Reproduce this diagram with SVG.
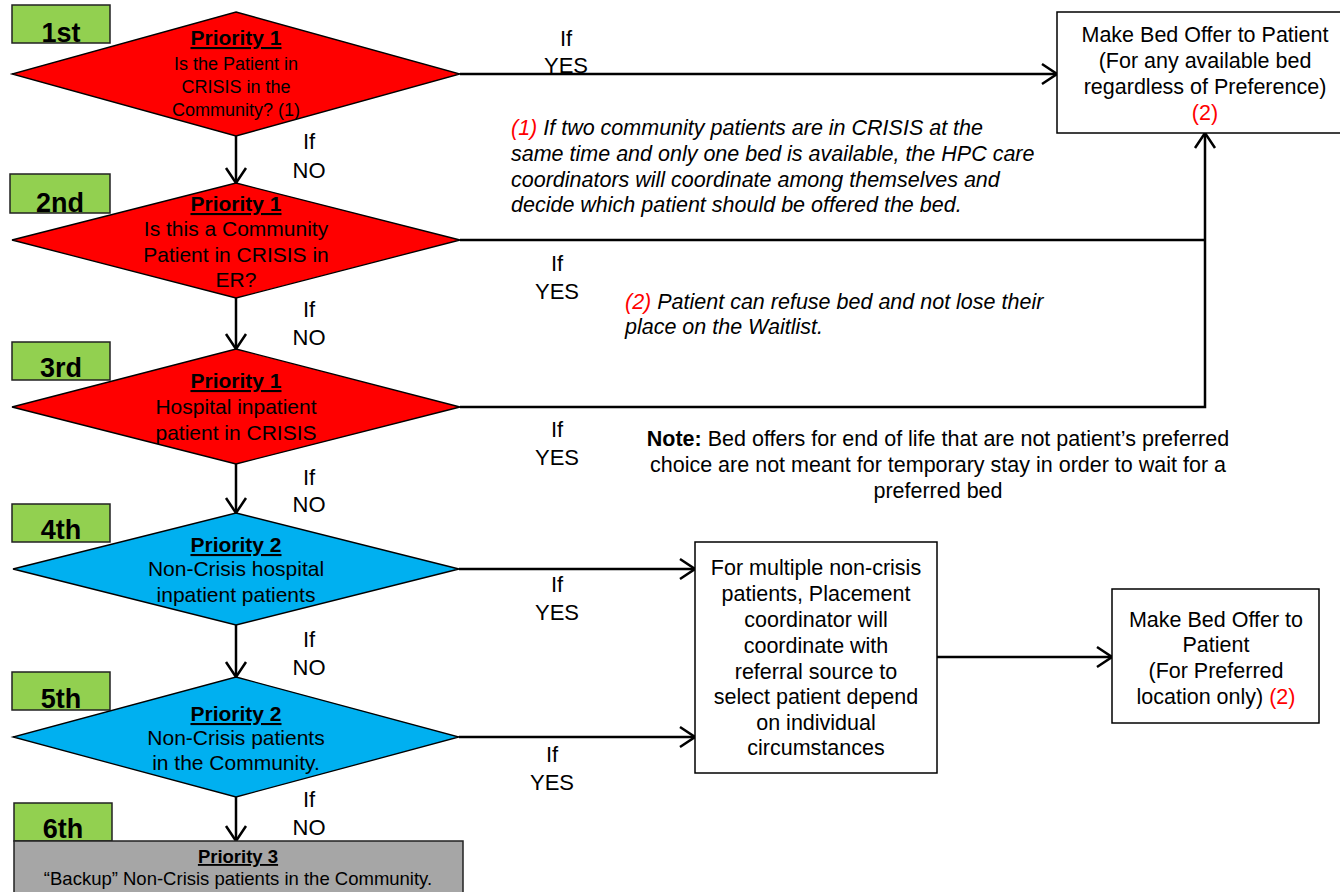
<svg xmlns="http://www.w3.org/2000/svg" width="1340" height="892" viewBox="0 0 1340 892">
<style>
text{font-family:"Liberation Sans",Arial,sans-serif;fill:#000}
.step{fill:#92d050;stroke:#222;stroke-width:1.5}
.stept{font-size:27px;font-weight:bold;text-anchor:middle}
.dia{stroke:#000;stroke-width:1.3}
.red{fill:#ff0000}
.blue{fill:#00b0f0}
.pr{font-size:21px;font-weight:bold;text-decoration:underline;text-anchor:middle}
.body{font-size:21px;text-anchor:middle}
.bx{font-size:21.5px;text-anchor:middle}
.lbl{font-size:22px;text-anchor:middle}
.box{fill:#fff;stroke:#000;stroke-width:1.5}
.note{font-size:21.5px;font-style:italic}
.nt{font-size:21.5px;text-anchor:middle}
.rn{fill:#ff0000}
.conn{fill:none;stroke:#000;stroke-width:2.5}
</style>
<defs>
<marker id="arr" markerUnits="userSpaceOnUse" viewBox="-17 -12 19 24" refX="0" refY="0" markerWidth="19" markerHeight="24" orient="auto">
<path d="M-15,-10 L0,0 L-15,10" fill="none" stroke="#000" stroke-width="2.5"/>
</marker>
</defs>

<g id="step1"><rect class="step" x="12" y="5" width="98" height="38"/><text class="stept" x="61" y="42">1st</text></g>
<g id="step2"><rect class="step" x="10" y="174" width="100" height="39"/><text class="stept" x="60" y="212">2nd</text></g>
<g id="step3"><rect class="step" x="12" y="342" width="98" height="38"/><text class="stept" x="61" y="377">3rd</text></g>
<g id="step4"><rect class="step" x="12" y="504" width="98" height="38"/><text class="stept" x="61" y="539">4th</text></g>
<g id="step5"><rect class="step" x="12" y="672" width="98" height="38"/><text class="stept" x="61" y="708">5th</text></g>
<g id="step6"><rect class="step" x="14" y="803" width="98" height="38"/><text class="stept" x="63" y="838">6th</text></g>

<g id="connectors">
<path class="conn" d="M460,74 H1057" marker-end="url(#arr)"/>
<path class="conn" d="M460,240 H1205"/>
<path class="conn" d="M460,407 H1205 V133" marker-end="url(#arr)"/>
<path class="conn" d="M236,136 V183" marker-end="url(#arr)"/>
<path class="conn" d="M236,298 V349" marker-end="url(#arr)"/>
<path class="conn" d="M236,464 V513" marker-end="url(#arr)"/>
<path class="conn" d="M236,625 V677" marker-end="url(#arr)"/>
<path class="conn" d="M236,797 V841" marker-end="url(#arr)"/>
<path class="conn" d="M459,569 H695" marker-end="url(#arr)"/>
<path class="conn" d="M459,737 H695" marker-end="url(#arr)"/>
<path class="conn" d="M937,657 H1112" marker-end="url(#arr)"/>
</g>

<g id="d1">
<polygon class="dia red" points="236,12 460,74 236,136 12,74"/>
<text class="pr" x="236" y="45">Priority 1</text>
<text class="body" style="font-size:18px" x="236" y="70">Is the Patient in</text>
<text class="body" style="font-size:18px" x="236" y="93">CRISIS in the</text>
<text class="body" style="font-size:18px" x="236" y="116">Community? (1)</text>
</g>
<g id="d2">
<polygon class="dia red" points="236,183 460,240 236,298 12,240"/>
<text class="pr" x="236" y="211">Priority 1</text>
<text class="body" x="236" y="236">Is this a Community</text>
<text class="body" x="236" y="262">Patient in CRISIS in</text>
<text class="body" x="236" y="287">ER?</text>
</g>
<g id="d3">
<polygon class="dia red" points="236,349 460,407 236,464 12,407"/>
<text class="pr" x="236" y="388">Priority 1</text>
<text class="body" x="236" y="414">Hospital inpatient</text>
<text class="body" x="236" y="440">patient in CRISIS</text>
</g>
<g id="d4">
<polygon class="dia blue" points="236,513 459,569 236,625 13,569"/>
<text class="pr" x="236" y="552">Priority 2</text>
<text class="body" x="236" y="576">Non-Crisis hospital</text>
<text class="body" x="236" y="602">inpatient patients</text>
</g>
<g id="d5">
<polygon class="dia blue" points="236,677 459,737 236,797 13,737"/>
<text class="pr" x="236" y="721">Priority 2</text>
<text class="body" x="236" y="745">Non-Crisis patients</text>
<text class="body" x="236" y="770">in the Community.</text>
</g>
<g id="backup">
<rect x="14" y="841" width="449" height="60" fill="#a6a6a6" stroke="#222" stroke-width="1.5"/>
<text class="pr" style="font-size:18.5px" x="238" y="863">Priority 3</text>
<text class="body" style="font-size:18.5px" x="238" y="885">“Backup” Non-Crisis patients in the Community.</text>
</g>

<g id="offer1">
<rect class="box" x="1057" y="12" width="300" height="121"/>
<text class="bx" x="1205" y="42">Make Bed Offer to Patient</text>
<text class="bx" x="1205" y="68">(For any available bed</text>
<text class="bx" x="1205" y="94">regardless of Preference)</text>
<text class="bx" x="1205" y="120" style="fill:#ff0000">(2)</text>
</g>
<g id="coord">
<rect class="box" x="695" y="542" width="242" height="231"/>
<text class="bx" x="816" y="575">For multiple non-crisis</text>
<text class="bx" x="816" y="601">patients, Placement</text>
<text class="bx" x="816" y="627">coordinator will</text>
<text class="bx" x="816" y="653">coordinate with</text>
<text class="bx" x="816" y="679">referral source to</text>
<text class="bx" x="816" y="704">select patient depend</text>
<text class="bx" x="816" y="730">on individual</text>
<text class="bx" x="816" y="755">circumstances</text>
</g>
<g id="offer2">
<rect class="box" x="1112" y="589" width="207" height="134"/>
<text class="bx" x="1216" y="627">Make Bed Offer to</text>
<text class="bx" x="1216" y="652">Patient</text>
<text class="bx" x="1216" y="678">(For Preferred</text>
<text class="bx" x="1216" y="704">location only) <tspan class="rn">(2)</tspan></text>
</g>

<g id="labels">
<text class="lbl" x="566" y="46">If</text><text class="lbl" x="566" y="73">YES</text>
<text class="lbl" x="309" y="149">If</text><text class="lbl" x="309" y="178">NO</text>
<text class="lbl" x="557" y="271">If</text><text class="lbl" x="557" y="299">YES</text>
<text class="lbl" x="309" y="317">If</text><text class="lbl" x="309" y="345">NO</text>
<text class="lbl" x="557" y="437">If</text><text class="lbl" x="557" y="465">YES</text>
<text class="lbl" x="309" y="485">If</text><text class="lbl" x="309" y="512">NO</text>
<text class="lbl" x="557" y="592">If</text><text class="lbl" x="557" y="620">YES</text>
<text class="lbl" x="309" y="647">If</text><text class="lbl" x="309" y="675">NO</text>
<text class="lbl" x="552" y="762">If</text><text class="lbl" x="552" y="790">YES</text>
<text class="lbl" x="309" y="807">If</text><text class="lbl" x="309" y="835">NO</text>
</g>

<g id="notes">
<text class="note" x="511" y="135"><tspan class="rn">(1)</tspan> If two community patients are in CRISIS at the</text>
<text class="note" x="511" y="161">same time and only one bed is available, the HPC care</text>
<text class="note" x="511" y="187">coordinators will coordinate among themselves and</text>
<text class="note" x="511" y="212">decide which patient should be offered the bed.</text>
<text class="note" x="625" y="309"><tspan class="rn">(2)</tspan> Patient can refuse bed and not lose their</text>
<text class="note" x="625" y="334">place on the Waitlist.</text>
<text class="nt" x="938" y="446"><tspan font-weight="bold">Note:</tspan> Bed offers for end of life that are not patient’s preferred</text>
<text class="nt" x="938" y="472">choice are not meant for temporary stay in order to wait for a</text>
<text class="nt" x="938" y="498">preferred bed</text>
</g>
</svg>
